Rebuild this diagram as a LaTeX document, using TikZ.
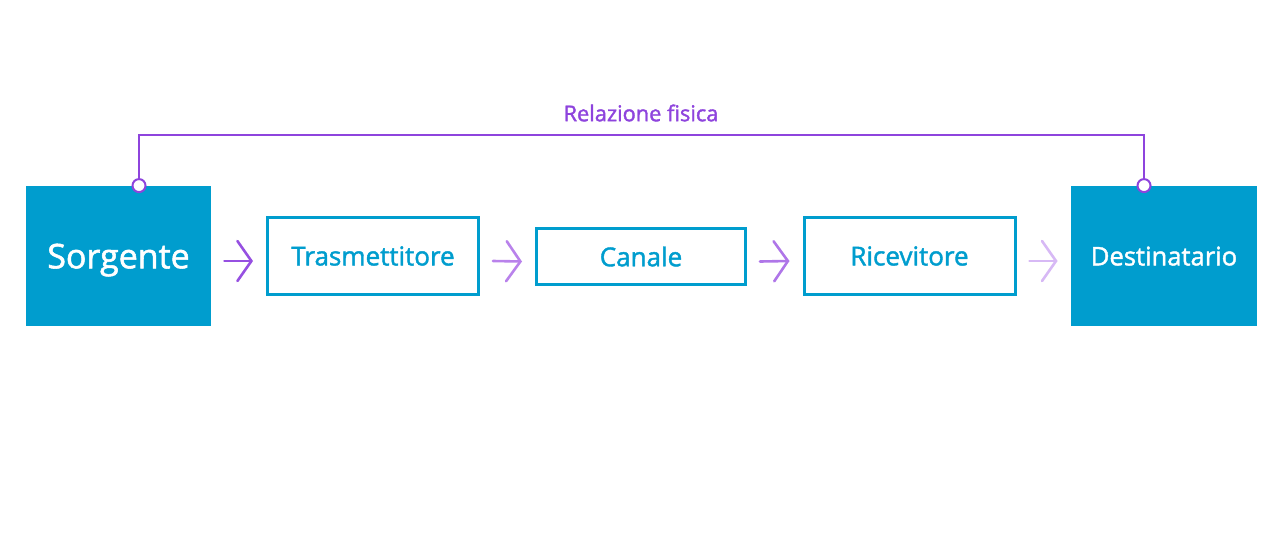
\documentclass[tikz,border=0pt]{standalone}
\usepackage{fontspec}
\setmainfont{Open Sans}[FakeBold=1.6]
\usetikzlibrary{arrows.meta,positioning,calc}
\definecolor{bc}{RGB}{0,157,206}
\definecolor{pc}{RGB}{142,68,221}
\definecolor{ac1}{RGB}{150,80,225}
\definecolor{ac2}{RGB}{185,130,235}
\definecolor{ac3}{RGB}{175,118,232}
\definecolor{ac4}{RGB}{215,185,245}
\tikzset{fb/.style={fill=bc,text=white,minimum width=92.5pt,minimum height=70pt,inner sep=0pt,text depth=0pt},
 ob/.style={draw=bc,line width=1.5pt,text=bc,minimum width=105.5pt,minimum height=38.5pt,inner sep=0pt,font=\fontsize{13}{15}\selectfont},
 wire/.style={draw=pc,line width=1pt},
 pin/.style={circle,draw=pc,fill=white,line width=1pt,minimum size=6.5pt,inner sep=0pt},
 arr/.style={-{Straight Barb[length=7pt,width=20pt,line cap=round]},line width=1.3pt,line cap=round}}
\begin{document}
\begin{tikzpicture}[x=0.5pt,y=-0.5pt]
\useasboundingbox (0,0) rectangle (1280,536);
\node[fb,font=\fontsize{17}{20}\selectfont] (src) at (118.5,256) {Sorgente};
\node[ob] (tx) at (373,256) {Trasmettitore};
\node[ob,minimum width=104.5pt,minimum height=28pt] (ch) at (641,256.5) {Canale};
\node[ob] (rx) at (909.5,256) {Ricevitore};
\node[fb,minimum width=93pt,font=\fontsize{12.8}{15}\selectfont] (dst) at (1164,256) {Destinatario};
\foreach \a/\b/\c in {src/tx/ac1,tx/ch/ac2,ch/rx/ac3,rx/dst/ac4}{\draw[arr,\c] ([shift={(6.5pt,-2.5pt)}]\a.east) -- ([shift={(-6.5pt,-2.5pt)}]\b.west);}
\coordinate (ps) at ([xshift=10.25pt]src.north);\coordinate (pd) at ([xshift=-10pt]dst.north);
\draw[wire] (ps) -- ++(0,-51) -| (pd);
\node[pin] at (ps) {};\node[pin] at (pd) {};
\node[text=pc,font=\fontsize{10.9}{12}\selectfont] (rel) at (641,113) {Relazione fisica};
\end{tikzpicture}
\end{document}
